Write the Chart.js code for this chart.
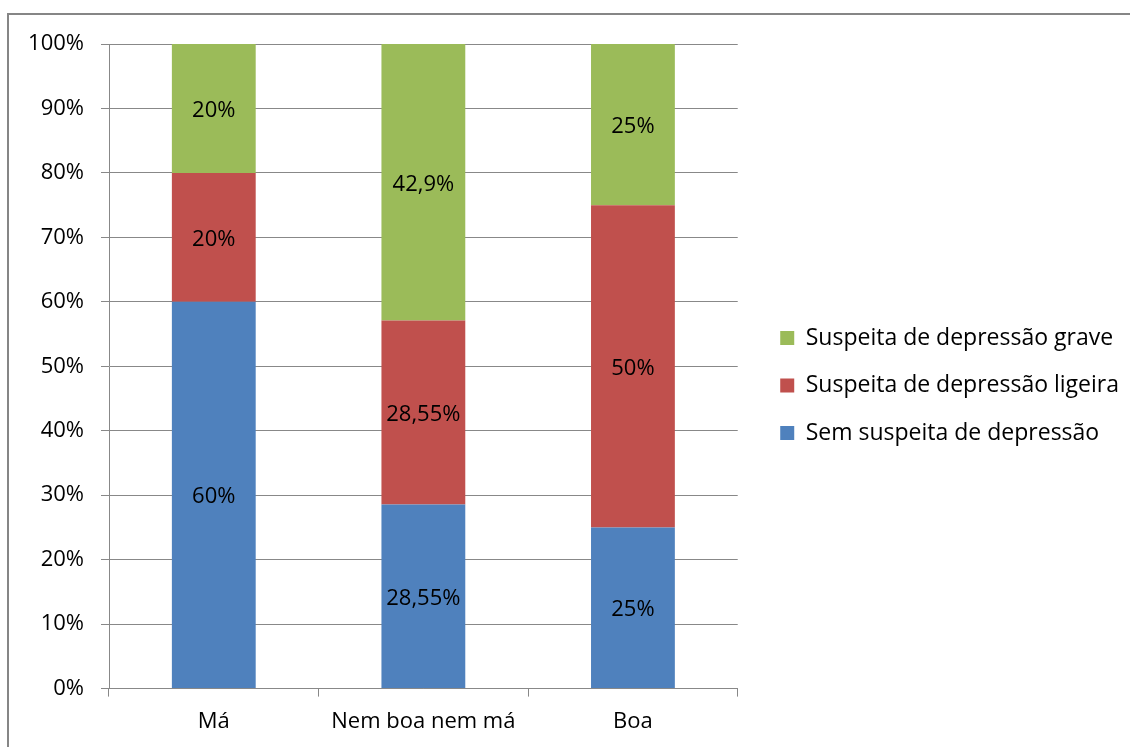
<!DOCTYPE html>
<html><head><meta charset="utf-8">
<script src="https://cdn.jsdelivr.net/npm/chart.js@4/dist/chart.umd.min.js"></script>
<style>html,body{margin:0;padding:0;background:#fff}#wrap{width:1130px;height:747px;position:relative}</style>
</head><body><div id="wrap"><canvas id="c" width="1130" height="747"></canvas></div>
<script>
const categories = ['Má', 'Nem boa nem má', 'Boa'];
const semSuspeita = [60, 28.55, 25];
const ligeira = [20, 28.55, 50];
const grave = [20, 42.9, 25];
const seriesNames = ['Sem suspeita de depressão', 'Suspeita de depressão ligeira', 'Suspeita de depressão grave'];
const seriesColors = ['#4F81BD', '#C0504D', '#9BBB59'];

const FONT = "'Open Sans', sans-serif";
const GRID = '#888888';

const framePlugin = {
  id: 'frame',
  beforeDraw(chart) {
    const ctx = chart.ctx;
    ctx.save();
    ctx.fillStyle = '#fff';
    ctx.fillRect(0, 0, chart.width, chart.height);
    ctx.strokeStyle = '#868686';
    ctx.lineWidth = 2;
    ctx.strokeRect(8, 14, 1200, 800);
    ctx.restore();
  }
};

const labelPlugin = {
  id: 'segLabels',
  afterDatasetsDraw(chart) {
    const ctx = chart.ctx;
    ctx.save();
    ctx.font = '22px ' + FONT;
    ctx.fillStyle = '#000';
    ctx.textAlign = 'center';
    ctx.textBaseline = 'middle';
    chart.data.datasets.forEach((ds, di) => {
      const meta = chart.getDatasetMeta(di);
      meta.data.forEach((el, i) => {
        const v = ds.data[i];
        const txt = String(v).replace('.', ',') + '%';
        ctx.fillText(txt, el.x, (el.y + el.base) / 2 + 2);
      });
    });
    ctx.restore();
  }
};

new Chart(document.getElementById('c'), {
  type: 'bar',
  data: {
    labels: categories,
    datasets: [
      { label: seriesNames[0], data: semSuspeita, backgroundColor: seriesColors[0] },
      { label: seriesNames[1], data: ligeira, backgroundColor: seriesColors[1] },
      { label: seriesNames[2], data: grave, backgroundColor: seriesColors[2] }
    ]
  },
  options: {
    responsive: false,
    devicePixelRatio: 1,
    animation: false,
    datasets: { bar: { categoryPercentage: 1, barPercentage: 0.4 } },
    layout: { padding: { top: 44, bottom: 0, left: 0, right: 1 } },
    scales: {
      x: {
        stacked: true,
        grid: { display: true, drawOnChartArea: false, drawTicks: true, tickLength: 8, color: GRID, offset: true },
        border: { display: true, color: GRID },
        ticks: { color: '#000', font: { family: FONT, size: 22 }, padding: 12 }
      },
      y: {
        stacked: true,
        min: 0, max: 100,
        afterFit(scale) { scale.width = 109; },
        grid: { color: GRID, tickLength: 8 },
        border: { display: true, color: GRID },
        ticks: { stepSize: 10, color: '#000', font: { family: FONT, size: 22 }, padding: 17, callback: v => v + '%' }
      },
      spacer: {
        position: 'right',
        display: true,
        afterFit(scale) { scale.width = 18; },
        grid: { display: false },
        border: { display: false },
        ticks: { display: false }
      }
    },
    plugins: {
      tooltip: { enabled: false },
      legend: {
        position: 'right',
        reverse: true,
        align: 'start',
        maxWidth: 600,
        title: { display: true, text: '', font: { size: 10, lineHeight: 1 }, padding: { top: 248, bottom: 0 } },
        labels: {
          boxWidth: 14, boxHeight: 14,
          padding: 24.5,
          color: '#000',
          font: { family: FONT, size: 23 }
        }
      }
    }
  },
  plugins: [framePlugin, labelPlugin]
});
</script>
</body></html>
